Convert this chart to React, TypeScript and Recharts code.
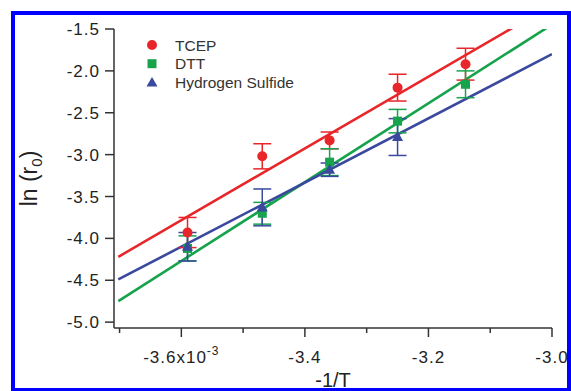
import React from 'react';
import { ComposedChart, Line, Scatter, XAxis, YAxis, ErrorBar } from 'recharts';

// ---- data ----
const seriesNames = ['TCEP', 'DTT', 'Hydrogen Sulfide'];
const invT = [-3.59, -3.469, -3.36, -3.25, -3.14];
const tcepLn = [-3.93, -3.02, -2.83, -2.2, -1.92];
const tcepErr = [0.18, 0.15, 0.1, 0.16, 0.19];
const dttLn = [-4.12, -3.7, -3.09, -2.6, -2.16];
const dttErr = [0.15, 0.13, 0.16, 0.14, 0.16];
const h2sLn = [-4.1, -3.63, -3.18, -2.79];
const h2sErr = [0.17, 0.22, 0.08, 0.22];

const tcepFitX = [-3.702, -3.06];
const tcepFitY = [-4.22, -1.47];
const dttFitX = [-3.702, -3.005];
const dttFitY = [-4.75, -1.47];
const h2sFitX = [-3.702, -3.0];
const h2sFitY = [-4.49, -1.8];

const xTicks = [-3.7, -3.6, -3.5, -3.4, -3.3, -3.2, -3.1, -3.0];
const xMajor = [-3.6, -3.4, -3.2, -3.0];
const yTicks = [-5.0, -4.5, -4.0, -3.5, -3.0, -2.5, -2.0, -1.5];

const RED = '#e8262a';
const GREEN = '#16a34c';
const BLUE = '#3a489e';
const AXIS = '#333333';
const FONT = '"Liberation Sans", Arial, Helvetica, sans-serif';

const toPts = (xs: number[], ys: number[], es?: number[]) =>
  xs.slice(0, ys.length).map((x, i) => ({ x, y: ys[i], err: es ? es[i] : 0 }));

const tcepData = toPts(invT, tcepLn, tcepErr);
const dttData = toPts(invT, dttLn, dttErr);
const h2sData = toPts(invT, h2sLn, h2sErr);
const tcepFit = toPts(tcepFitX, tcepFitY);
const dttFit = toPts(dttFitX, dttFitY);
const h2sFit = toPts(h2sFitX, h2sFitY);

const Circle = (p: any) => <circle cx={p.cx} cy={p.cy} r={5} fill={RED} />;
const Square = (p: any) => <rect x={p.cx - 4.5} y={p.cy - 4.5} width={9} height={9} fill={GREEN} />;
const Tri = (p: any) => (
  <polygon points={`${p.cx},${p.cy - 6} ${p.cx - 5.5},${p.cy + 4} ${p.cx + 5.5},${p.cy + 4}`} fill={BLUE} />
);

const XTick = (props: any) => {
  const { x, y, payload } = props;
  const v = Math.round(payload.value * 10) / 10;
  const major = xMajor.some((m) => Math.abs(m - v) < 1e-6);
  return (
    <g>
      <line x1={x} x2={x} y1={y} y2={y + (major ? 9 : 5)} stroke={AXIS} strokeWidth={1.5} />
      {major && (
        <text x={x} y={y + 35} textAnchor="middle" fontSize={17} fill="#222" fontFamily={FONT} letterSpacing={1}>
          {v === -3.6 ? (
            <>
              {'-3.6x10'}
              <tspan dy={-8} fontSize={12}>
                -3
              </tspan>
            </>
          ) : (
            v.toFixed(1)
          )}
        </text>
      )}
    </g>
  );
};

const YTitle = (props: any) => {
  const vb = props.viewBox;
  const cy = vb.y + vb.height / 2;
  const cx = 37;
  return (
    <text
      x={cx}
      y={cy}
      transform={`rotate(-90, ${cx}, ${cy})`}
      textAnchor="middle"
      fontSize={23}
      fill="#222"
      fontFamily={FONT}
    >
      ln (r
      <tspan dy={5} fontSize={15}>
        0
      </tspan>
      <tspan dy={-5}>)</tspan>
    </text>
  );
};

const XTitle = (props: any) => {
  const vb = props.viewBox;
  return (
    <text x={vb.x + vb.width / 2} y={387} textAnchor="middle" fontSize={20} fill="#222" fontFamily={FONT}>
      -1/T
    </text>
  );
};

const legendColors = [RED, GREEN, BLUE];

export default function App() {
  return (
    <div style={{ position: 'absolute', left: 0, top: 0, width: 571, height: 391, background: '#fff', overflow: 'hidden' }}>
      <ComposedChart
        width={571}
        height={391}
        margin={{ top: 29, right: 19, bottom: 23, left: 54 }}
        style={{ fontFamily: FONT }}
      >
        <XAxis
          type="number"
          dataKey="x"
          domain={[-3.709, -3.0]}
          allowDataOverflow
          ticks={xTicks}
          interval={0}
          tick={<XTick />}
          tickLine={false}
          tickSize={0}
          tickMargin={0}
          height={40}
          axisLine={{ stroke: AXIS, strokeWidth: 1.5 }}
          label={<XTitle />}
        />
        <YAxis
          type="number"
          dataKey="y"
          domain={[-5.07, -1.5]}
          allowDataOverflow
          ticks={yTicks}
          interval={0}
          width={60}
          tickSize={9}
          tickMargin={5}
          tickFormatter={(v: number) => v.toFixed(1)}
          tick={{ fill: '#222', fontSize: 17, fontFamily: FONT, letterSpacing: 1 }}
          tickLine={{ stroke: AXIS, strokeWidth: 1.5 }}
          axisLine={{ stroke: AXIS, strokeWidth: 1.5 }}
          label={<YTitle />}
        />
        <Line data={tcepFit} dataKey="y" stroke={RED} strokeWidth={2.6} dot={false} isAnimationActive={false} />
        <Line data={dttFit} dataKey="y" stroke={GREEN} strokeWidth={2.6} dot={false} isAnimationActive={false} />
        <Line data={h2sFit} dataKey="y" stroke={BLUE} strokeWidth={2.6} dot={false} isAnimationActive={false} />
        <Scatter data={tcepData} dataKey="y" shape={Circle} isAnimationActive={false}>
          <ErrorBar dataKey="err" direction="y" width={9} stroke={RED} strokeWidth={1.5} />
        </Scatter>
        <Scatter data={dttData} dataKey="y" shape={Square} isAnimationActive={false}>
          <ErrorBar dataKey="err" direction="y" width={9} stroke={GREEN} strokeWidth={1.5} />
        </Scatter>
        <Scatter data={h2sData} dataKey="y" shape={Tri} isAnimationActive={false}>
          <ErrorBar dataKey="err" direction="y" width={9} stroke={BLUE} strokeWidth={1.5} />
        </Scatter>
      </ComposedChart>
      <svg width={571} height={391} style={{ position: 'absolute', left: 0, top: 0, pointerEvents: 'none' }}>
        {seriesNames.map((name, i) => {
          const cy = 45 + i * 18.7;
          const c = legendColors[i];
          return (
            <g key={name}>
              {i === 0 && <circle cx={152} cy={cy} r={5} fill={c} />}
              {i === 1 && <rect x={147.5} y={cy - 4.5} width={9} height={9} fill={c} />}
              {i === 2 && <polygon points={`152,${cy - 5.5} 146.5,${cy + 4} 157.5,${cy + 4}`} fill={c} />}
              <text x={175} y={cy + 5.5} fontSize={15.5} fill="#333" fontFamily={FONT}>
                {name}
              </text>
            </g>
          );
        })}
      </svg>
      <div
        style={{
          position: 'absolute',
          left: 11,
          top: 11,
          width: 560,
          height: 380,
          boxSizing: 'border-box',
          borderTop: '4px solid #0000ff',
          borderLeft: '4px solid #0000ff',
          borderRight: '4px solid #0000ff',
          borderBottom: '3px solid #0000ff',
        }}
      />
    </div>
  );
}
